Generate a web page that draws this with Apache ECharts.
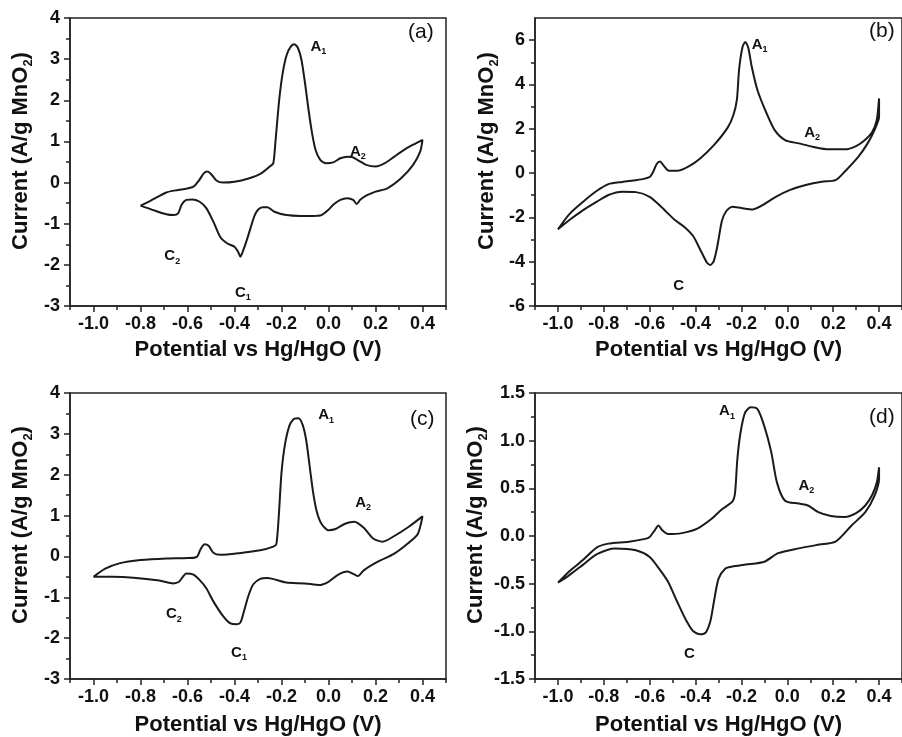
<!DOCTYPE html>
<html>
<head>
<meta charset="utf-8">
<script src="https://cdn.jsdelivr.net/npm/echarts@6/dist/echarts.min.js"></script>
<style>
html, body { margin: 0; padding: 0; background: #fff; }
#main { width: 902px; height: 737px; }
</style>
</head>
<body>
<div id="main"></div>
<script>
// panel (a) : anodic branch then cathodic branch, closed loop
var potA = [-0.80,-0.76,-0.69,-0.64,-0.605,-0.575,-0.55,-0.53,-0.515,-0.50,-0.477,-0.45,-0.40,-0.34,-0.29,-0.25,-0.235,-0.225,-0.21,-0.195,-0.178,-0.16,-0.145,-0.13,-0.115,-0.10,-0.085,-0.07,-0.055,-0.035,-0.01,0.02,0.05,0.08,0.10,0.13,0.16,0.20,0.24,0.28,0.32,0.36,0.40,
  0.39,0.36,0.31,0.25,0.20,0.16,0.135,0.12,0.105,0.08,0.05,0.02,0.0,-0.03,-0.07,-0.12,-0.18,-0.23,-0.26,-0.28,-0.30,-0.315,-0.33,-0.345,-0.36,-0.375,-0.385,-0.40,-0.43,-0.46,-0.49,-0.52,-0.55,-0.58,-0.605,-0.625,-0.64,-0.66,-0.69,-0.74,-0.80];
var curA = [-0.56,-0.45,-0.24,-0.18,-0.15,-0.10,0.06,0.23,0.27,0.21,0.05,0.0,0.02,0.10,0.21,0.39,0.47,1.04,2.0,2.66,3.1,3.31,3.36,3.27,2.98,2.42,1.77,1.2,0.79,0.55,0.47,0.49,0.59,0.63,0.62,0.53,0.43,0.39,0.47,0.63,0.79,0.92,1.04,
  0.75,0.43,0.11,-0.14,-0.22,-0.32,-0.42,-0.52,-0.42,-0.38,-0.42,-0.54,-0.66,-0.79,-0.81,-0.81,-0.79,-0.71,-0.60,-0.60,-0.66,-0.81,-1.07,-1.35,-1.6,-1.80,-1.68,-1.56,-1.48,-1.33,-0.95,-0.62,-0.46,-0.41,-0.42,-0.54,-0.75,-0.79,-0.77,-0.68,-0.56];

// panel (b)
var potB = [-1.0,-0.95,-0.89,-0.83,-0.78,-0.72,-0.66,-0.62,-0.60,-0.585,-0.57,-0.555,-0.54,-0.52,-0.48,-0.43,-0.38,-0.32,-0.26,-0.235,-0.22,-0.21,-0.195,-0.183,-0.17,-0.155,-0.13,-0.09,-0.055,-0.01,0.05,0.11,0.18,0.25,0.30,0.34,0.37,0.39,0.40,
  0.40,0.38,0.35,0.31,0.25,0.21,0.15,0.08,0.01,-0.05,-0.10,-0.15,-0.20,-0.24,-0.265,-0.285,-0.305,-0.32,-0.335,-0.35,-0.38,-0.41,-0.45,-0.49,-0.55,-0.60,-0.66,-0.72,-0.78,-0.83,-0.89,-0.95,-1.0];
var curB = [-2.54,-1.85,-1.29,-0.80,-0.50,-0.40,-0.32,-0.25,-0.18,0.05,0.40,0.52,0.35,0.12,0.10,0.30,0.66,1.26,2.05,2.62,3.3,4.7,5.7,5.92,5.65,4.8,3.74,2.69,1.94,1.49,1.34,1.19,1.07,1.07,1.22,1.50,1.85,2.4,3.37,
  2.54,1.94,1.34,0.74,0.06,-0.32,-0.39,-0.54,-0.77,-1.07,-1.40,-1.64,-1.58,-1.52,-1.70,-2.15,-3.3,-3.95,-4.15,-4.05,-3.45,-2.85,-2.42,-2.12,-1.52,-1.07,-0.86,-0.84,-0.99,-1.29,-1.67,-2.12,-2.54];

// panel (c)
var potC = [-1.0,-0.95,-0.89,-0.80,-0.69,-0.60,-0.56,-0.545,-0.527,-0.51,-0.49,-0.46,-0.38,-0.29,-0.235,-0.222,-0.212,-0.20,-0.185,-0.165,-0.145,-0.128,-0.11,-0.095,-0.08,-0.065,-0.05,-0.03,0.0,0.03,0.07,0.11,0.15,0.19,0.23,0.28,0.34,0.40,
  0.38,0.34,0.28,0.21,0.15,0.125,0.11,0.08,0.04,0.0,-0.04,-0.10,-0.18,-0.26,-0.29,-0.32,-0.34,-0.36,-0.375,-0.39,-0.42,-0.45,-0.49,-0.52,-0.548,-0.577,-0.605,-0.62,-0.636,-0.66,-0.72,-0.83,-0.92,-1.0];
var curC = [-0.50,-0.30,-0.17,-0.09,-0.05,-0.04,-0.01,0.17,0.30,0.26,0.09,0.04,0.08,0.15,0.24,0.30,0.95,2.05,2.75,3.22,3.37,3.38,3.22,2.85,2.2,1.55,1.1,0.8,0.64,0.67,0.80,0.85,0.70,0.44,0.36,0.50,0.72,0.98,
  0.55,0.33,0.07,-0.13,-0.34,-0.48,-0.44,-0.37,-0.45,-0.62,-0.70,-0.66,-0.64,-0.53,-0.55,-0.68,-0.95,-1.35,-1.62,-1.66,-1.63,-1.45,-1.10,-0.78,-0.58,-0.44,-0.42,-0.50,-0.62,-0.66,-0.59,-0.52,-0.50,-0.50];

// panel (d)
var potD = [-1.0,-0.95,-0.89,-0.83,-0.78,-0.69,-0.62,-0.60,-0.578,-0.562,-0.545,-0.52,-0.46,-0.39,-0.33,-0.29,-0.24,-0.228,-0.218,-0.205,-0.185,-0.16,-0.13,-0.10,-0.07,-0.045,-0.01,0.05,0.09,0.135,0.19,0.25,0.30,0.34,0.37,0.39,0.40,
  0.40,0.38,0.34,0.28,0.21,0.14,0.05,-0.04,-0.10,-0.18,-0.24,-0.27,-0.30,-0.32,-0.335,-0.355,-0.38,-0.41,-0.44,-0.48,-0.52,-0.56,-0.60,-0.66,-0.75,-0.83,-0.89,-0.95,-1.0];
var curD = [-0.49,-0.37,-0.25,-0.12,-0.08,-0.06,-0.03,-0.01,0.06,0.11,0.06,0.02,0.03,0.08,0.18,0.27,0.36,0.45,0.80,1.07,1.29,1.35,1.33,1.15,0.88,0.56,0.37,0.34,0.32,0.25,0.21,0.20,0.24,0.32,0.43,0.56,0.72,
  0.60,0.42,0.25,0.11,-0.06,-0.09,-0.13,-0.18,-0.27,-0.30,-0.32,-0.34,-0.45,-0.69,-0.89,-1.01,-1.03,-1.00,-0.89,-0.69,-0.48,-0.34,-0.22,-0.15,-0.13,-0.19,-0.30,-0.41,-0.49];

// tick labels
var xTicks = [-1.0,-0.8,-0.6,-0.4,-0.2,0.0,0.2,0.4];
var xMinor = [-1.1,-0.9,-0.7,-0.5,-0.3,-0.1,0.1,0.3,0.5];
var yTicksAC = [-3,-2,-1,0,1,2,3,4];
var yMinorAC = [-2.5,-1.5,-0.5,0.5,1.5,2.5,3.5];
var yTicksB = [-6,-4,-2,0,2,4,6];
var yMinorB = [-5,-3,-1,1,3,5];
var yTicksD = [-1.5,-1.0,-0.5,0.0,0.5,1.0,1.5];
var yMinorD = [-1.25,-0.75,-0.25,0.25,0.75,1.25];

// peak labels
var peaksA = ['A{s|1}','A{s|2}','C{s|2}','C{s|1}'];
var peaksB = ['A{s|1}','A{s|2}','C'];

var FONT = 'Liberation Sans, Arial, Helvetica, sans-serif';
var INK = '#111';

function zip(xs, ys) {
  var out = [];
  for (var i = 0; i < xs.length; i++) out.push([xs[i], ys[i]]);
  return out;
}

var panels = [
  { tag: '(a)', pot: potA, cur: curA, ymin: -3, ymax: 4, yt: yTicksAC, ym: yMinorAC, dec: 0,
    grid: { left: 70, top: 18, width: 376, height: 288 }, yGap: 35, xGap: 33, tagPos: [408, 22],
    marks: peaksA, markAt: [[-0.043, 3.30], [0.125, 0.75], [-0.665, -1.79], [-0.364, -2.68]] },
  { tag: '(b)', pot: potB, cur: curB, ymin: -6, ymax: 7, yt: yTicksB, ym: yMinorB, dec: 0,
    grid: { left: 535, top: 18, width: 374, height: 288 }, yGap: 34, xGap: 33, tagPos: [869, 21],
    marks: peaksB, markAt: [[-0.121, 5.8], [0.108, 1.81], [-0.474, -5.1]] },
  { tag: '(c)', pot: potC, cur: curC, ymin: -3, ymax: 4, yt: yTicksAC, ym: yMinorAC, dec: 0,
    grid: { left: 70, top: 393, width: 376, height: 289 }, yGap: 35, xGap: 35, tagPos: [410, 409],
    marks: peaksA, markAt: [[-0.010, 3.46], [0.147, 1.32], [-0.658, -1.41], [-0.381, -2.35]] },
  { tag: '(d)', pot: potD, cur: curD, ymin: -1.5, ymax: 1.5, yt: yTicksD, ym: yMinorD, dec: 1,
    grid: { left: 535, top: 393, width: 374, height: 289 }, yGap: 44, xGap: 35, tagPos: [869, 407],
    marks: peaksB, markAt: [[-0.263, 1.31], [0.083, 0.53], [-0.427, -1.24]] }
];

var axisColor = '#222';
var grids = [], xAxes = [], yAxes = [], series = [], titles = [];

panels.forEach(function (p, i) {
  grids.push({
    left: p.grid.left, top: p.grid.top, width: p.grid.width, height: p.grid.height,
    show: true, borderColor: axisColor, borderWidth: 1.5, backgroundColor: 'transparent'
  });

  // main x axis with labels
  xAxes.push({
    type: 'value', gridIndex: i, min: -1.1, max: 0.5, position: 'bottom',
    axisLine: { show: true, onZero: false, lineStyle: { color: axisColor, width: 1.5 } },
    axisTick: { show: true, length: 6, customValues: xTicks, lineStyle: { color: axisColor, width: 1.5 } },
    axisLabel: { customValues: xTicks, margin: 9, fontSize: 18, fontWeight: 'bold', color: INK, fontFamily: FONT,
      formatter: function (v) { return v.toFixed(1); } },
    splitLine: { show: false },
    name: 'Potential vs Hg/HgO (V)', nameLocation: 'middle', nameGap: p.xGap,
    nameTextStyle: { fontSize: 22, fontWeight: 'bold', color: INK, fontFamily: FONT }
  });
  // minor x ticks
  xAxes.push({
    type: 'value', gridIndex: i, min: -1.1, max: 0.5, position: 'bottom',
    axisLine: { show: false, onZero: false },
    axisTick: { show: true, length: 4, customValues: xMinor, lineStyle: { color: axisColor, width: 1.5 } },
    axisLabel: { show: false }, splitLine: { show: false }
  });

  yAxes.push({
    type: 'value', gridIndex: i, min: p.ymin, max: p.ymax, position: 'left',
    axisLine: { show: true, onZero: false, lineStyle: { color: axisColor, width: 1.5 } },
    axisTick: { show: true, length: 6, customValues: p.yt, lineStyle: { color: axisColor, width: 1.5 } },
    axisLabel: { customValues: p.yt, margin: 10, fontSize: 18, fontWeight: 'bold', color: INK, fontFamily: FONT,
      formatter: (function (d) { return function (v) { return v.toFixed(d); }; })(p.dec) },
    splitLine: { show: false },
    name: 'Current (A/g MnO{s|2})', nameLocation: 'middle', nameGap: p.yGap, nameRotate: 90,
    nameTextStyle: { fontSize: 22, fontWeight: 'bold', color: INK, fontFamily: FONT, lineHeight: 28,
      padding: [0, 0, 0, 22],
      rich: { s: { fontSize: 13, fontWeight: 'bold', color: INK, fontFamily: FONT, verticalAlign: 'bottom', lineHeight: 13 } } }
  });
  yAxes.push({
    type: 'value', gridIndex: i, min: p.ymin, max: p.ymax, position: 'left',
    axisLine: { show: false, onZero: false },
    axisTick: { show: true, length: 4, customValues: p.ym, lineStyle: { color: axisColor, width: 1.5 } },
    axisLabel: { show: false }, splitLine: { show: false }
  });

  series.push({
    type: 'line', xAxisIndex: 2 * i, yAxisIndex: 2 * i,
    data: zip(p.pot, p.cur),
    showSymbol: false, symbol: 'none', smooth: 0.25,
    lineStyle: { color: '#1a1a1a', width: 2 },
    markPoint: {
      symbol: 'circle', symbolSize: 1, itemStyle: { color: 'rgba(0,0,0,0)' },
      label: { show: true, position: 'inside', formatter: '{b}', fontSize: 15, fontWeight: 'bold', color: INK,
        fontFamily: FONT, lineHeight: 19,
        rich: { s: { fontSize: 9, fontWeight: 'bold', color: INK, fontFamily: FONT, verticalAlign: 'bottom', lineHeight: 9 } } },
      data: p.marks.map(function (m, k) { return { name: m, coord: p.markAt[k] }; })
    }
  });

  titles.push({
    text: p.tag, left: p.tagPos[0], top: p.tagPos[1], padding: 0,
    textStyle: { fontSize: 21, fontWeight: 'normal', color: INK, fontFamily: FONT }
  });
});

var chart = echarts.init(document.getElementById('main'));
chart.setOption({
  animation: false,
  backgroundColor: '#fff',
  textStyle: { fontFamily: FONT },
  title: titles,
  grid: grids,
  xAxis: xAxes,
  yAxis: yAxes,
  series: series
});
</script>
</body>
</html>
